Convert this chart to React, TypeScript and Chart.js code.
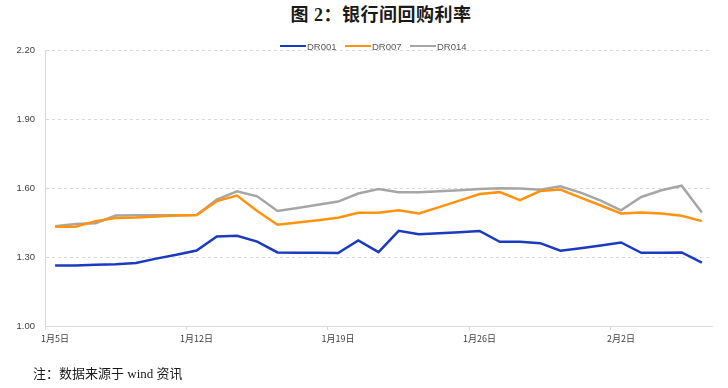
import React, { useEffect, useRef } from "react";
import { Chart, registerables } from "chart.js";

Chart.register(...registerables);

const dates = [
  "1月5日", "1月6日", "1月7日", "1月8日", "1月9日", "1月10日", "1月11日",
  "1月12日", "1月13日", "1月14日", "1月15日", "1月16日", "1月17日", "1月18日",
  "1月19日", "1月20日", "1月21日", "1月22日", "1月23日", "1月24日", "1月25日",
  "1月26日", "1月27日", "1月28日", "1月29日", "1月30日", "1月31日", "2月1日",
  "2月2日", "2月3日", "2月4日", "2月5日", "2月6日",
];

const dr001 = [
  1.263, 1.263, 1.266, 1.269, 1.274, 1.293, 1.31,
  1.328, 1.389, 1.392, 1.367, 1.32, 1.319, 1.318,
  1.317, 1.372, 1.321, 1.414, 1.399, 1.403, 1.408,
  1.413, 1.366, 1.366, 1.36, 1.327, 1.338, 1.35,
  1.363, 1.318, 1.319, 1.32, 1.276,
];

const dr007 = [
  1.432, 1.432, 1.456, 1.47, 1.472, 1.476, 1.48,
  1.483, 1.543, 1.567, 1.5, 1.44, 1.45, 1.46,
  1.471, 1.492, 1.492, 1.503, 1.489, 1.517, 1.545,
  1.574, 1.582, 1.547, 1.587, 1.593, 1.558, 1.524,
  1.489, 1.493, 1.489, 1.479, 1.456,
];

const dr014 = [
  1.434, 1.443, 1.447, 1.48, 1.481, 1.481, 1.482,
  1.483, 1.55, 1.586, 1.564, 1.5, 1.513, 1.527,
  1.541, 1.576, 1.596, 1.582, 1.582, 1.586, 1.59,
  1.596, 1.599, 1.598, 1.592, 1.607, 1.58, 1.545,
  1.503, 1.561, 1.59, 1.61, 1.493,
];

const seriesNames = ["DR001", "DR007", "DR014"];
const seriesColors = ["#1a3bbf", "#ff930f", "#a6a6a6"];
const yTicks = [1.0, 1.3, 1.6, 1.9, 2.2];

export default function App() {
  const ref = useRef<HTMLCanvasElement | null>(null);

  useEffect(() => {
    if (!ref.current) return;
    const chart = new Chart(ref.current, {
      type: "line",
      data: {
        labels: dates,
        datasets: [dr001, dr007, dr014].map((d, i) => ({
          label: seriesNames[i],
          data: d,
          borderColor: seriesColors[i],
          backgroundColor: seriesColors[i],
          borderWidth: 2.5,
          pointRadius: 0,
          tension: 0,
          fill: false,
        })),
      },
      options: {
        animation: false,
        responsive: false,
        devicePixelRatio: 1,
        layout: { padding: { top: 50, right: 16, bottom: 0, left: 0 } },
        plugins: {
          legend: { display: false },
          title: { display: false },
          tooltip: { enabled: false },
        },
        scales: {
          x: {
            type: "category",
            offset: true,
            afterFit: (s: any) => {
              s.height = 62;
            },
            grid: {
              display: true,
              drawOnChartArea: false,
              drawTicks: true,
              tickLength: 4,
              offset: true,
              color: (c: any) => (c.index % 7 === 0 ? "#d9d9d9" : "rgba(0,0,0,0)"),
            },
            border: { display: true, color: "#d9d9d9", width: 1 },
            ticks: {
              autoSkip: false,
              maxRotation: 0,
              minRotation: 0,
              padding: 3,
              color: "#404040",
              font: { family: "'Noto Sans CJK SC', 'Liberation Sans', sans-serif", size: 9 },
              callback: (_v: any, i: number) => (i % 7 === 0 ? dates[i] : ""),
            },
          },
          y: {
            min: 1.0,
            max: 2.2,
            afterFit: (s: any) => {
              s.width = 45;
            },
            afterBuildTicks: (s: any) => {
              s.ticks = yTicks.map((v) => ({ value: v }));
            },
            grid: {
              color: (c: any) => (c.tick && c.tick.value === 1.0 ? "rgba(0,0,0,0)" : "#d9d9d9"),
              drawTicks: false,
              lineWidth: 1,
            },
            border: { display: true, color: "#d9d9d9", width: 1, dash: [3, 3] },
            ticks: {
              padding: 10,
              color: "#404040",
              font: { family: "'Liberation Sans', Arial, sans-serif", size: 9.5 },
              callback: (v: any) => Number(v).toFixed(2),
            },
          },
        },
      },
    });
    return () => chart.destroy();
  }, []);

  const legendItem = (i: number, left: number) => (
    <div
      key={i}
      style={{
        position: "absolute",
        left,
        top: 39,
        height: 14,
        display: "flex",
        alignItems: "center",
      }}
    >
      <div style={{ width: 26, height: 2.5, background: seriesColors[i] }} />
      <span
        style={{
          marginLeft: 1,
          fontFamily: "'Liberation Sans', Arial, sans-serif",
          fontSize: 9.5,
          color: "#595959",
        }}
      >
        {seriesNames[i]}
      </span>
    </div>
  );

  return (
    <div
      style={{
        position: "fixed",
        left: 0,
        top: 0,
        width: 728,
        height: 388,
        background: "#fff",
        overflow: "hidden",
      }}
    >
      <div
        style={{
          position: "absolute",
          left: 0,
          top: 4,
          width: 762,
          textAlign: "center",
          fontFamily: "'Liberation Serif', 'Noto Sans CJK SC', serif",
          fontWeight: 700,
          fontSize: 18,
          letterSpacing: 0.5,
          color: "#1a1a1a",
          lineHeight: "22px",
        }}
      >
        图 2：银行间回购利率
      </div>
      <canvas
        ref={ref}
        width={728}
        height={388}
        style={{ position: "absolute", left: 0, top: 0, width: 728, height: 388 }}
      />
      {legendItem(0, 280)}
      {legendItem(1, 345)}
      {legendItem(2, 410)}
      <div
        style={{
          position: "absolute",
          left: 33,
          top: 366,
          fontFamily: "'Liberation Serif', 'Noto Sans CJK SC', serif",
          fontSize: 13,
          color: "#1a1a1a",
          lineHeight: "16px",
          whiteSpace: "nowrap",
        }}
      >
        注：数据来源于 wind 资讯
      </div>
    </div>
  );
}
